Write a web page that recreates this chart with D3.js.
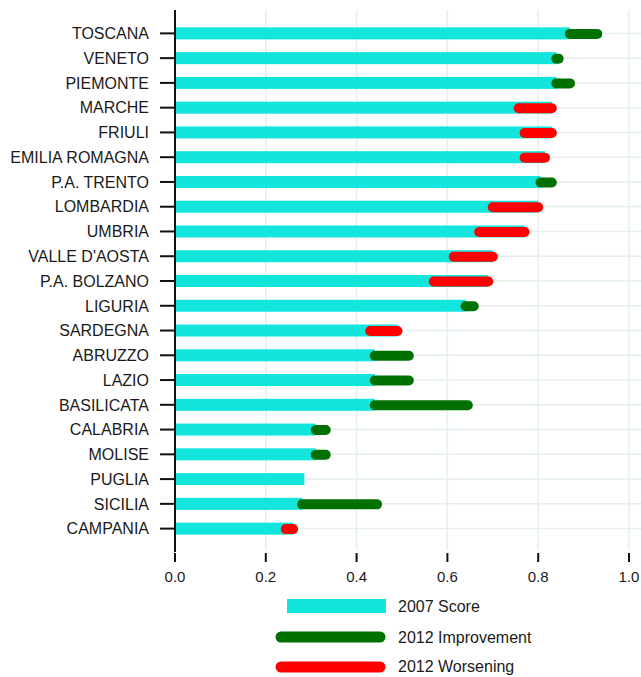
<!DOCTYPE html>
<html>
<head>
<meta charset="utf-8">
<script src="https://d3js.org/d3.v7.min.js"></script>
<style>
    body{margin:0;background:#fff;}
    text{font-family:"Liberation Sans",Arial,sans-serif;fill:#1a1a1a;}
</style>
</head>
<body>
<svg id="chart" width="641" height="677"></svg>
<script>
// regions, top to bottom
var regions = ["TOSCANA","VENETO","PIEMONTE","MARCHE","FRIULI","EMILIA ROMAGNA","P.A. TRENTO",
    "LOMBARDIA","UMBRIA","VALLE D'AOSTA","P.A. BOLZANO","LIGURIA","SARDEGNA","ABRUZZO","LAZIO",
    "BASILICATA","CALABRIA","MOLISE","PUGLIA","SICILIA","CAMPANIA"];
var score2007 = [0.87,0.84,0.84,0.83,0.83,0.815,0.805,0.80,0.77,0.70,0.69,0.64,0.49,0.44,0.44,0.44,0.31,0.31,0.285,0.28,0.26];
var score2012 = [0.93,0.845,0.87,0.757,0.77,0.77,0.83,0.70,0.67,0.614,0.57,0.658,0.43,0.515,0.515,0.645,0.332,0.332,0.285,0.445,0.244];
var xTicks = [0,0.2,0.4,0.6,0.8,1.0];
var legendLabels = ["2007 Score","2012 Improvement","2012 Worsening"];

var cyan = "#12e5dc", green = "#007000", red = "#ff0000";

var data = regions.map(function(r,i){
    return {name:r, a:score2007[i], b:score2012[i]};
});

var svg = d3.select("#chart");

var x = d3.scaleLinear().domain([0,1]).range([175,629]);
var y = d3.scaleBand().domain(regions).range([21,541]).padding(0);
var yc = function(n){ return y(n) + y.bandwidth()/2; };

// grid
var grid = svg.append('g').attr('class','grid');
grid.selectAll('line.v')
    .data(xTicks)
    .enter()
    .append('line')
    .attr('class','v')
    .attr('x1',function(d){ return x(d); })
    .attr('x2',function(d){ return x(d); })
    .attr('y1',10)
    .attr('y2',550)
    .attr('stroke','#e4eef0')
    .attr('stroke-width',1.5);
grid.selectAll('line.h')
    .data(regions)
    .enter()
    .append('line')
    .attr('class','h')
    .attr('x1',x(0))
    .attr('x2',641)
    .attr('y1',function(d){ return yc(d); })
    .attr('y2',function(d){ return yc(d); })
    .attr('stroke','#e4eef0')
    .attr('stroke-width',1.5);

// 2007 bars
svg.append('g').selectAll('rect')
    .data(data)
    .enter()
    .append('rect')
    .attr('x',x(0))
    .attr('y',function(d){ return yc(d.name) - 6; })
    .attr('width',function(d){ return x(d.a) - x(0); })
    .attr('height',12)
    .attr('fill',cyan);

// 2012 change
svg.append('g').selectAll('line')
    .data(data.filter(function(d){ return d.a != d.b; }))
    .enter()
    .append('line')
    .attr('x1',function(d){ return x(d.a); })
    .attr('x2',function(d){ return x(d.b); })
    .attr('y1',function(d){ return yc(d.name) + 0.5; })
    .attr('y2',function(d){ return yc(d.name) + 0.5; })
    .attr('stroke',function(d){ return d.b > d.a ? green : red; })
    .attr('stroke-width',10)
    .attr('stroke-linecap','round');

// y axis
var yAxis = svg.append('g');
yAxis.append('line')
    .attr('x1',x(0)).attr('x2',x(0))
    .attr('y1',10).attr('y2',552)
    .attr('stroke','#111').attr('stroke-width',2);
yAxis.selectAll('line.tick')
    .data(regions)
    .enter()
    .append('line')
    .attr('class','tick')
    .attr('x1',160).attr('x2',x(0))
    .attr('y1',function(d){ return yc(d); })
    .attr('y2',function(d){ return yc(d); })
    .attr('stroke','#111').attr('stroke-width',2);
yAxis.selectAll('text')
    .data(regions)
    .enter()
    .append('text')
    .attr('x',149)
    .attr('y',function(d){ return yc(d); })
    .attr('dy','0.36em')
    .attr('text-anchor','end')
    .style('font-size','16px')
    .text(function(d){ return d; });

// x axis (ticks only, detached)
var xAxis = svg.append('g');
xAxis.selectAll('line')
    .data(xTicks)
    .enter()
    .append('line')
    .attr('x1',function(d){ return x(d); })
    .attr('x2',function(d){ return x(d); })
    .attr('y1',553).attr('y2',562)
    .attr('stroke','#111').attr('stroke-width',2);
xAxis.selectAll('text')
    .data(xTicks)
    .enter()
    .append('text')
    .attr('x',function(d){ return x(d); })
    .attr('y',582)
    .attr('text-anchor','middle')
    .style('font-size','15px')
    .text(function(d){ return d3.format('.1f')(d); });

// legend
var lg = svg.append('g');
lg.append('rect')
    .attr('x',287).attr('y',599)
    .attr('width',99).attr('height',14)
    .attr('fill',cyan);
lg.selectAll('line')
    .data([{c:green,y:637},{c:red,y:667}])
    .enter()
    .append('line')
    .attr('x1',281).attr('x2',380)
    .attr('y1',function(d){ return d.y; })
    .attr('y2',function(d){ return d.y; })
    .attr('stroke',function(d){ return d.c; })
    .attr('stroke-width',11)
    .attr('stroke-linecap','round');
lg.selectAll('text')
    .data(legendLabels)
    .enter()
    .append('text')
    .attr('x',398)
    .attr('y',function(d,i){ return [612,643,672][i]; })
    .style('font-size','16px')
    .text(function(d){ return d; });
</script>
</body>
</html>
